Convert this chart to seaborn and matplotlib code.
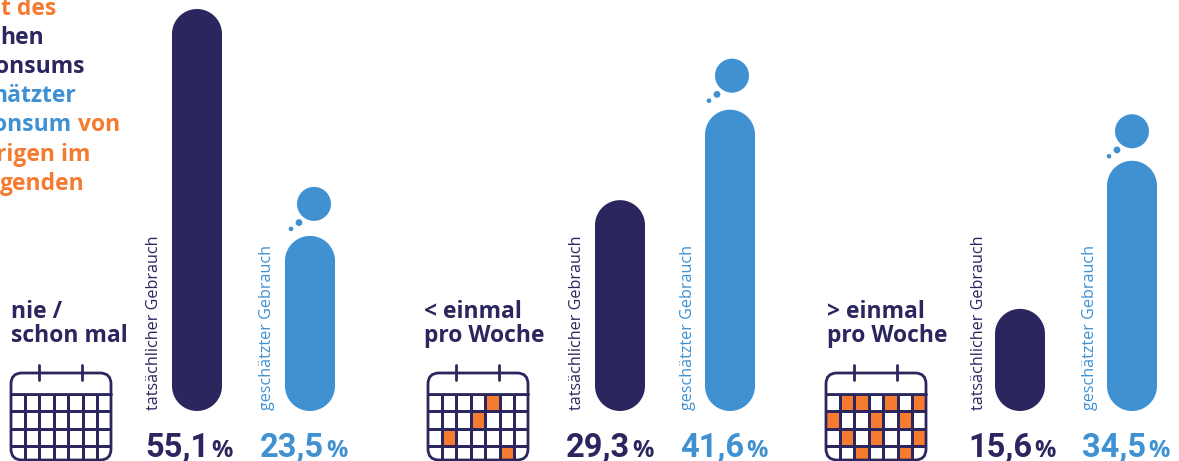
import matplotlib
matplotlib.use("Agg")
import matplotlib.pyplot as plt
import numpy as np
import pandas as pd
import seaborn as sns
from matplotlib.patches import Circle, FancyBboxPatch, Polygon

# Data
groups = [["nie /", "schon mal"], ["< einmal", "pro Woche"], ["> einmal", "pro Woche"]]
bar_names = ["tatsächlicher Gebrauch", "geschätzter Gebrauch"]
value_labels = [["55,1", "23,5"], ["29,3", "41,6"], ["15,6", "34,5"]]
# drawn lengths, they do not follow the printed numbers exactly
actual_len = [55.1, 28.9, 14.0]
guessed_len = [24.0, 41.3, 34.3]
# orange days in each calendar, one list of columns per row
days_1 = [[], [], [], []]
days_2 = [[4], [3], [1], [5]]
days_3 = [[1, 2, 4, 6], [0, 3, 5], [1, 3, 6], [2, 5]]
title_parts = ["t des", "hen", "onsums", "hätzter", "onsum", "von", "rigen im", "genden"]

NAVY = "#2b265e"
BLUE = "#4091d2"
ORANGE = "#f47b30"
W, H = 1179, 461

sns.set_theme(style="white")
plt.rcParams["font.family"] = ["Open Sans", "DejaVu Sans"]

fig = plt.figure(figsize=(W / 100, H / 100), dpi=100)
fig.patch.set_facecolor("white")

# overlay in pixel coordinates for the text and the decoration
px = fig.add_axes([0, 0, 1, 1], zorder=5)
px.set_xlim(0, W)
px.set_ylim(H, 0)
px.axis("off")
px.patch.set_alpha(0)

base_y = 411
top_y = 9
centers = [(197, 310), (620, 730), (1020, 1132)]
head_x = [11, 424, 827]
cal_x = [10, 427, 825]
bubble_dx = [4, 2, 0]
bubble_dy = [-32, -34, -29.5]
name_x = [(154.5, 267), (577, 687.5), (979, 1090)]
value_x = [(145, 260), (566, 680), (968, 1082)]
title_right = [56, 44, 85, 76, 71, 120, 90, 85]
title_base = [15, 44, 73, 102, 131, 131, 161, 190]
title_cols = [ORANGE, NAVY, NAVY, BLUE, BLUE, ORANGE, ORANGE, ORANGE]


def round_bars(ax, colors):
    # swap the square bars of seaborn for pills with a true half circle at each end
    to_px_x = ax.get_window_extent().width / np.ptp(ax.get_xlim())
    to_px_y = ax.get_window_extent().height / np.ptp(ax.get_ylim())
    for bar, col in zip(list(ax.patches), colors):
        x0, w, h = bar.get_x(), bar.get_width(), bar.get_height()
        rx = w / 2
        ry = rx * to_px_x / to_px_y
        t = np.linspace(0, np.pi, 40)
        top = np.c_[x0 + rx + rx * np.cos(t), h - ry + ry * np.sin(t)]
        low = np.c_[x0 + rx + rx * np.cos(t + np.pi), ry + ry * np.sin(t + np.pi)]
        ax.add_patch(Polygon(np.r_[top, low], closed=True, fc=col, ec="none"))
        bar.remove()


def draw_calendar(x0, days):
    # the calendar runs off the bottom of the picture
    w = 102
    cells = np.zeros((4, 7))
    for row, cols in enumerate(days):
        cells[row, cols] = 1
    ax = fig.add_axes([x0 / W, (H - 463) / H, w / W, 69 / H], zorder=3)
    sns.heatmap(cells, ax=ax, cmap=["white", ORANGE], vmin=0, vmax=1, cbar=False,
                linewidths=2.0, linecolor=NAVY, xticklabels=False, yticklabels=False)
    frame = FancyBboxPatch((x0 + 1, 373), w - 2, 87, boxstyle="round,pad=0,rounding_size=11",
                           fc="none", ec=NAVY, lw=2.0)
    px.add_patch(frame)
    ax.collections[0].set_clip_path(frame)
    px.plot([x0 + 1, x0 + w - 1], [394, 394], color=NAVY, lw=2.0)
    for peg in (29, 72):
        px.plot([x0 + peg, x0 + peg], [365, 380], color=NAVY, lw=2.0)


renderer = fig.canvas.get_renderer()

for i in range(3):
    c0, c1 = centers[i]
    step = c1 - c0
    ax = fig.add_axes([(c0 - step / 2) / W, (H - base_y) / H, 2 * step / W, (base_y - top_y) / H])
    df = pd.DataFrame({"name": bar_names, "length": [actual_len[i], guessed_len[i]]})
    sns.barplot(data=df, x="name", y="length", ax=ax, width=50 / step, color=NAVY, saturation=1)
    ax.set_xlim(-0.5, 1.5)
    ax.set_ylim(0, 55.1)
    ax.axis("off")
    round_bars(ax, [NAVY, BLUE])

    # thought bubble above the blue bar
    top_blue = base_y - guessed_len[i] * (base_y - top_y) / 55.1
    bx = c1 + bubble_dx[i]
    by = top_blue + bubble_dy[i]
    px.add_patch(Circle((bx, by), 17, fc=BLUE, ec="none"))
    px.add_patch(Circle((bx - 15, by + 18.7), 3.4, fc=BLUE, ec="none"))
    px.add_patch(Circle((bx - 23, by + 25), 2.3, fc=BLUE, ec="none"))

    # rotated bar names
    for x, name, col in zip(name_x[i], bar_names, (NAVY, BLUE)):
        px.text(x, 410, name, color=col, rotation=90, fontsize=11.6, ha="center", va="bottom")

    # group heading
    px.text(head_x[i], 318, groups[i][0], color=NAVY, fontsize=16.5, fontweight="bold", va="baseline")
    px.text(head_x[i], 342, groups[i][1], color=NAVY, fontsize=16.5, fontweight="bold", va="baseline")

    # numbers with the smaller percent sign
    for x, s, col in zip(value_x[i], value_labels[i], (NAVY, BLUE)):
        t = px.text(x, 457, s, color=col, fontsize=23.5, fontweight="bold", va="baseline",
                    family=["Roboto", "DejaVu Sans"])
        end = t.get_window_extent(renderer).x1
        px.text(end + 2, 457, "%", color=col, fontsize=17, fontweight="bold", va="baseline")

draw_calendar(cal_x[0], days_1)
draw_calendar(cal_x[1], days_2)
draw_calendar(cal_x[2], days_3)

# title, only the right end of it is inside the picture
for s, x, y, col in zip(title_parts, title_right, title_base, title_cols):
    px.text(x, y, s, color=col, fontsize=16.5, fontweight="bold", va="baseline", ha="right")

fig.savefig("out.png", dpi=100)
